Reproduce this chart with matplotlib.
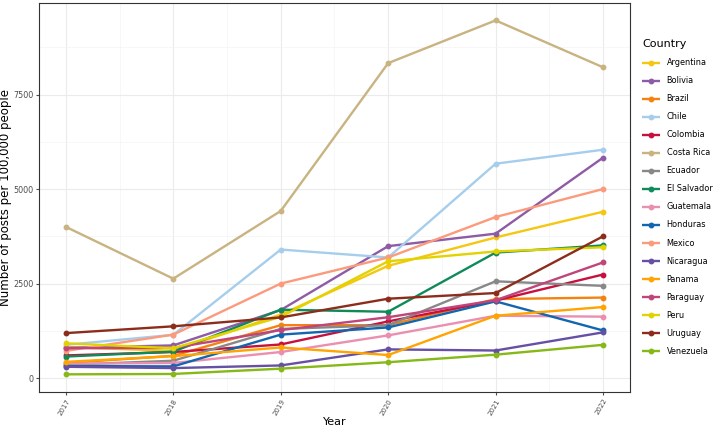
import matplotlib.pyplot as plt
from matplotlib.ticker import MultipleLocator

years = [2017, 2018, 2019, 2020, 2021, 2022]

countries = ["Argentina", "Bolivia", "Brazil", "Chile", "Colombia", "Costa Rica",
             "Ecuador", "El Salvador", "Guatemala", "Honduras", "Mexico",
             "Nicaragua", "Panama", "Paraguay", "Peru", "Uruguay", "Venezuela"]

argentina = [820, 720, 1680, 2970, 3720, 4400]
bolivia = [800, 865, 1800, 3490, 3820, 5830]
brazil = [400, 590, 1400, 1400, 2090, 2130]
chile = [880, 1146, 3400, 3190, 5670, 6040]
colombia = [600, 690, 890, 1500, 2050, 2740]
costa_rica = [4000, 2630, 4420, 8330, 9460, 8220]
ecuador = [350, 460, 1300, 1400, 2560, 2440]
el_salvador = [570, 700, 1810, 1755, 3320, 3510]
guatemala = [380, 400, 690, 1130, 1650, 1625]
honduras = [320, 310, 1150, 1340, 2030, 1260]
mexico = [720, 1150, 2500, 3190, 4260, 5000]
nicaragua = [300, 265, 335, 760, 730, 1210]
panama = [430, 580, 810, 610, 1650, 1880]
paraguay = [790, 800, 1270, 1610, 2060, 3060]
peru = [920, 790, 1620, 3090, 3350, 3460]
uruguay = [1190, 1370, 1605, 2100, 2250, 3750]
venezuela = [100, 110, 250, 420, 620, 880]

series = [argentina, bolivia, brazil, chile, colombia, costa_rica, ecuador,
          el_salvador, guatemala, honduras, mexico, nicaragua, panama,
          paraguay, peru, uruguay, venezuela]

colors = ["#F5C710", "#8E5BA6", "#F5820F", "#A6CEEC", "#C8103E", "#C8B381",
          "#888888", "#0F8A5A", "#EB8FB0", "#1266B0", "#FC9A7C", "#6650A4",
          "#FFA400", "#C0457A", "#E2D200", "#8C2D1C", "#86B817"]

fig = plt.figure(figsize=(7.18, 4.29), dpi=100)
ax = fig.add_axes([0.0543, 0.086, 0.823, 0.907])

for name, vals, c in zip(countries, series, colors):
    ax.plot(years, vals, color=c, lw=1.7, marker="o", markersize=3.2,
            label=name, solid_capstyle="butt")

ax.set_xlim(2016.75, 2022.25)
ax.set_ylim(-370, 9920)
ax.set_xticks(years)
ax.set_xticklabels([str(y) for y in years], rotation=60, ha="right",
                   va="top", fontsize=5, color="#4D4D4D",
                   rotation_mode="anchor")
ax.yaxis.set_major_locator(MultipleLocator(2500))
ax.yaxis.set_minor_locator(MultipleLocator(1250))
ax.xaxis.set_minor_locator(MultipleLocator(0.5))
ax.tick_params(axis="y", labelsize=5.8, colors="#4D4D4D", length=2.5, pad=1.5)
ax.tick_params(axis="x", length=2.5, colors="#4D4D4D", pad=1.5)
ax.tick_params(which="minor", length=0)

ax.grid(which="major", color="#EBEBEB", lw=0.8)
ax.grid(which="minor", color="#F4F4F4", lw=0.5)
ax.set_axisbelow(True)
for sp in ax.spines.values():
    sp.set_color("#333333")
    sp.set_linewidth(0.8)

ax.set_xlabel("Year", fontsize=8, labelpad=0.5)
ax.set_ylabel("Number of posts per 100,000 people", fontsize=8.5, labelpad=1)

leg = ax.legend(title="Country", loc="upper left", bbox_to_anchor=(1.015, 0.915),
                frameon=False, fontsize=5.9, title_fontsize=8,
                handlelength=2.2, labelspacing=1.1, handletextpad=0.8,
                borderaxespad=0)
leg._legend_box.align = "left"

fig.savefig("out.png", dpi=100)
